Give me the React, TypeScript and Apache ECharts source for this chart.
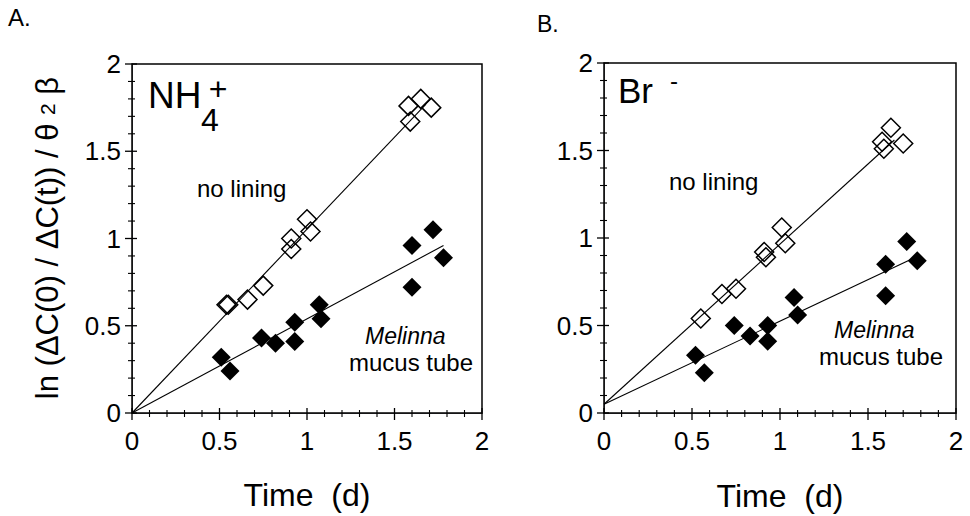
import React, { useEffect, useRef } from "react";
import * as echarts from "echarts";

// ---- Data ----
// Panel A: NH4+
const aOpenPts: number[][] = [
  [0.55, 0.62], [0.54, 0.62], [0.66, 0.65], [0.75, 0.73], [0.91, 1.0], [0.91, 0.94],
  [1.0, 1.11], [1.02, 1.04], [1.59, 1.67], [1.58, 1.76], [1.65, 1.8], [1.71, 1.75],
];
const aFilledPts: number[][] = [
  [0.51, 0.32], [0.56, 0.24], [0.74, 0.43], [0.82, 0.4], [0.93, 0.52], [0.93, 0.41],
  [1.07, 0.62], [1.08, 0.54], [1.6, 0.96], [1.6, 0.72], [1.72, 1.05], [1.78, 0.89],
];
const aOpenFit: number[][] = [[0, 0], [1.68, 1.77]];
const aFilledFit: number[][] = [[0, 0], [1.78, 0.96]];

// Panel B: Br-
const bOpenPts: number[][] = [
  [0.55, 0.54], [0.67, 0.68], [0.75, 0.71], [0.91, 0.92], [0.92, 0.89], [1.01, 1.06],
  [1.03, 0.97], [1.59, 1.51], [1.58, 1.55], [1.63, 1.63], [1.7, 1.54],
];
const bFilledPts: number[][] = [
  [0.52, 0.33], [0.57, 0.23], [0.74, 0.5], [0.83, 0.44], [0.93, 0.5], [0.93, 0.41],
  [1.08, 0.66], [1.1, 0.56], [1.6, 0.85], [1.6, 0.67], [1.72, 0.98], [1.78, 0.87],
];
const bOpenFit: number[][] = [[0, 0.05], [1.65, 1.56]];
const bFilledFit: number[][] = [[0, 0.05], [1.77, 0.89]];

const axisMin = 0;
const axisMax = 2;
const axisSplits = 4; // labelled ticks every 0.5
const minorSplits = 5; // minor ticks every 0.1
const tickLabels = ["0", "0.5", "1", "1.5", "2"];

const FONT = "'Liberation Sans', Arial, Helvetica, sans-serif";

export default function App() {
  const ref = useRef<HTMLDivElement>(null);

  useEffect(() => {
    if (!ref.current) return;
    const chart = echarts.init(ref.current, undefined, { renderer: "svg" });

    const rects = [
      { left: 132, top: 64, width: 350, height: 349 },
      { left: 604, top: 63, width: 352, height: 350 },
    ];

    const step = (axisMax - axisMin) / axisSplits;
    const minorStep = step / minorSplits;
    const fmt = (v: number) => {
      const i = Math.round((v - axisMin) / step);
      return tickLabels[i] ?? String(v);
    };

    // tick positions (axis values) for the crossing tick marks
    const tickValues: number[] = [];
    for (let k = 0; k <= axisSplits * minorSplits; k++) {
      tickValues.push(+(axisMin + k * minorStep).toFixed(4));
    }
    const tickData = tickValues.map((v) => [v, v]);

    const axisOpt = (gridIndex: number, isX: boolean) => ({
      type: "value",
      gridIndex,
      min: axisMin,
      max: axisMax,
      splitNumber: axisSplits,
      position: isX ? "bottom" : "left",
      axisLine: { show: true, onZero: false },
      axisTick: { show: false },
      minorTick: { show: false },
      axisLabel: {
        show: true,
        formatter: fmt,
        color: "#000",
        fontSize: 26,
        fontFamily: FONT,
        margin: isX ? 15 : 11,
      },
      splitLine: { show: false },
      minorSplitLine: { show: false },
    });

    const isMajor = (v: number) => Math.abs(v / step - Math.round(v / step)) < 1e-6;

    const tickSeries = (idx: number, isX: boolean) => ({
      type: "custom",
      coordinateSystem: "cartesian2d",
      xAxisIndex: idx,
      yAxisIndex: idx,
      data: tickData,
      silent: true,
      clip: false,
      z: 10,
      renderItem: (params: any, api: any) => {
        const v = api.value(0);
        const major = isMajor(v);
        const out = major ? 7 : 4;
        const inn = major ? 5 : 3;
        const p = isX ? api.coord([v, axisMin]) : api.coord([axisMin, v]);
        const shape = isX
          ? { x1: p[0], y1: p[1] - inn, x2: p[0], y2: p[1] + out }
          : { x1: p[0] - out, y1: p[1], x2: p[0] + inn, y2: p[1] };
        return {
          type: "line",
          shape,
          style: { stroke: "#000", lineWidth: major ? 1.3 : 1.1 },
        };
      },
    });

    const openStyle = {
      color: "rgba(255,255,255,0)",
      borderColor: "#000",
      borderWidth: 1.5,
      opacity: 1,
    };
    const filledStyle = { color: "#000", borderColor: "#000", borderWidth: 0, opacity: 1 };

    const fitLine = (data: number[][], idx: number) => ({
      type: "line",
      xAxisIndex: idx,
      yAxisIndex: idx,
      data,
      showSymbol: false,
      symbol: "none",
      lineStyle: { color: "#000", width: 1.1 },
      silent: true,
      z: 1,
    });
    const scatter = (data: number[][], idx: number, open: boolean) => ({
      type: "scatter",
      xAxisIndex: idx,
      yAxisIndex: idx,
      data,
      symbol: "diamond",
      symbolSize: 19,
      itemStyle: open ? openStyle : filledStyle,
      emphasis: { disabled: true },
      z: 3,
    });

    const txt = (
      text: string,
      x: number,
      y: number,
      fontSize: number,
      align: string = "left",
      extra: any = {}
    ) => ({
      type: "text",
      x,
      y,
      silent: true,
      style: {
        text,
        fontSize,
        fontFamily: FONT,
        fill: "#000",
        align,
        verticalAlign: "middle",
        ...extra,
      },
    });

    chart.setOption({
      animation: false,
      backgroundColor: "#fff",
      grid: rects.map((g) => ({ ...g, show: false, containLabel: false })),
      xAxis: [axisOpt(0, true), axisOpt(1, true)],
      yAxis: [axisOpt(0, false), axisOpt(1, false)],
      series: [
        fitLine(aOpenFit, 0),
        fitLine(aFilledFit, 0),
        scatter(aOpenPts, 0, true),
        scatter(aFilledPts, 0, false),
        fitLine(bOpenFit, 1),
        fitLine(bFilledFit, 1),
        scatter(bOpenPts, 1, true),
        scatter(bFilledPts, 1, false),
        tickSeries(0, true),
        tickSeries(0, false),
        tickSeries(1, true),
        tickSeries(1, false),
      ],
      graphic: [
        // frames around the two plot areas (drawn on top of the default axis lines)
        ...rects.map((g) => ({
          type: "rect",
          silent: true,
          z: 50,
          shape: { x: g.left, y: g.top, width: g.width, height: g.height },
          style: { fill: "none", stroke: "#000", lineWidth: 1.5 },
        })),
        txt("A.", 8, 17, 24),
        txt("B.", 537, 24, 23),
        // panel A labels
        txt("NH", 148, 95, 37),
        txt("+", 218, 89, 32, "center"),
        txt("4", 201, 120, 32),
        txt("no lining", 197, 188, 24),
        txt("Melinna", 365, 336, 23, "left", { fontStyle: "italic" }),
        txt("mucus tube", 349, 362, 24),
        // panel B labels
        txt("Br", 618, 90, 35),
        txt("-", 674, 80, 24, "center"),
        txt("no lining", 669, 181, 24),
        txt("Melinna", 834, 330, 23, "left", { fontStyle: "italic" }),
        txt("mucus tube", 819, 356, 24),
        // axis titles
        txt("Time  (d)", 307, 495, 32, "center"),
        txt("Time  (d)", 780, 496, 32, "center"),
        {
          type: "text",
          x: 47,
          y: 238,
          rotation: Math.PI / 2,
          silent: true,
          style: {
            text: "{a|ln (ΔC(0) / ΔC(t)) / θ }{s|2}{a| β}",
            align: "center",
            verticalAlign: "middle",
            fill: "#000",
            fontFamily: FONT,
            fontSize: 31,
            rich: {
              a: { fontSize: 31, fontFamily: FONT, fill: "#000" },
              s: { fontSize: 21, fontFamily: FONT, fill: "#000" },
            },
          },
        },
      ],
    });

    return () => chart.dispose();
  }, []);

  return (
    <div
      ref={ref}
      style={{ position: "absolute", left: 0, top: 0, width: 970, height: 516, background: "#fff" }}
    />
  );
}
